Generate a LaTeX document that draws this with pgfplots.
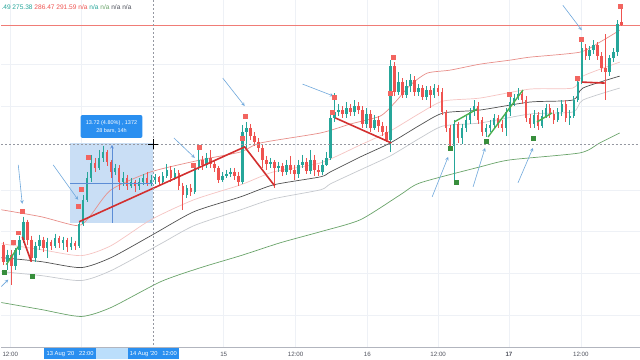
\documentclass[border=0pt]{standalone}
\usepackage{pgfplots}
\pgfplotsset{compat=1.18}
\usepackage{pgfplotstable}
\usepackage{fontspec}
\setmainfont{Liberation Sans}
\definecolor{upc}{HTML}{26A69A}
\definecolor{dnc}{HTML}{EF5350}
\definecolor{sigred}{HTML}{F26560}
\definecolor{siggreen}{HTML}{388E3C}
\definecolor{trred}{HTML}{D32F2F}
\definecolor{trgreen}{HTML}{4CAF50}
\definecolor{bandS}{HTML}{E88F8A}
\definecolor{bandP}{HTML}{F6C4C2}
\definecolor{bandB}{HTML}{505050}
\definecolor{bandL}{HTML}{C6C9CE}
\definecolor{bandG}{HTML}{6AA46A}
\definecolor{pricec}{HTML}{F07C76}
\definecolor{gridc}{HTML}{EEF1F6}
\definecolor{crossc}{HTML}{9598A1}
\definecolor{selfill}{HTML}{C9DEF5}
\definecolor{selline}{HTML}{5C8DD6}
\definecolor{boxc}{HTML}{2A8FF0}
\definecolor{rangec}{HTML}{BBDEFB}
\definecolor{arrc}{HTML}{6FA8DC}
\definecolor{labc}{HTML}{50535E}
\definecolor{axc}{HTML}{B2B5BE}
\definecolor{tgreen}{HTML}{26A69A}
\definecolor{tred}{HTML}{EF5350}

% candles, pixel-like units (y grows downward): x open high low close
\pgfplotstableread{
x o h l c
6 262 250 270 255
14 266 248 270 250
18 250 236 255 240
22 240 217 243 222
34 258 242 262 246
38 246 235 250 240
46 248 238 258 242
54 246 234 248 238
62 243 237 250 240
70 247 237 250 243
78 246 222 248 224
82 224 195 226 200
86 200 172 202 178
90 178 155 182 163
98 168 150 170 158
102 158 146 162 152
114 172 164 175 168
122 182 172 186 178
130 186 178 188 182
138 186 178 190 182
142 182 174 185 178
150 183 175 186 180
154 180 174 184 177
162 182 172 184 176
166 176 164 178 170
174 178 168 180 173
186 195 185 198 188
194 192 163 194 167
198 167 150 170 160
206 165 153 168 158
222 180 172 182 176
226 176 170 178 174
230 174 168 177 172
242 182 125 184 132
246 132 122 148 128
270 164 158 168 162
278 168 162 172 166
286 172 160 175 165
298 174 160 178 165
302 165 155 168 162
310 171 150 174 160
322 172 160 175 165
326 165 152 166 158
330 158 112 160 118
334 118 93 122 112
338 112 104 116 110
346 114 102 118 108
354 112 100 116 106
366 124 108 128 114
374 128 115 130 120
390 140 60 152 66
398 92 72 95 82
406 95 80 98 86
410 86 74 92 80
418 92 84 96 88
426 97 86 100 90
434 95 84 98 88
454 146 120 180 124
462 138 124 144 128
466 128 116 132 120
470 120 108 124 112
474 112 100 116 106
486 132 124 137 128
490 128 120 132 125
494 125 114 128 118
506 128 108 136 112
510 112 96 116 102
514 102 94 106 98
518 98 88 100 94
534 124 110 128 115
542 126 110 128 116
546 116 104 118 108
558 120 108 122 112
562 112 100 116 104
570 118 110 125 116
574 116 96 118 100
578 100 78 102 82
582 82 40 84 48
590 56 46 60 50
594 50 40 54 45
610 72 55 76 58
614 58 48 62 52
618 52 20 56 24
}\up

\pgfplotstableread{
x o h l c
2 245 242 265 262
10 255 250 285 266
26 222 220 245 240
30 240 236 262 258
42 240 237 252 248
50 242 240 250 246
58 238 236 248 243
66 240 238 252 247
74 243 241 250 246
94 163 158 172 168
106 152 150 166 162
110 162 160 178 172
118 168 165 190 182
126 178 175 190 186
134 182 180 192 186
146 178 172 186 183
158 177 176 185 182
170 170 166 182 178
178 173 170 190 186
182 186 183 210 195
190 188 184 196 192
202 160 156 170 165
210 158 150 168 164
214 164 160 172 168
218 168 166 183 180
234 172 168 180 176
238 176 172 186 182
250 128 124 140 136
254 136 132 146 142
258 142 138 152 148
262 148 145 168 160
266 160 156 170 164
274 162 160 188 168
282 166 163 176 172
290 165 156 174 170
294 170 165 180 174
306 162 158 174 171
314 160 155 176 170
318 170 165 176 172
342 110 106 118 114
350 108 104 116 112
358 106 102 114 110
362 110 106 128 124
370 114 110 132 128
378 120 116 132 126
382 126 122 136 132
386 132 126 142 140
394 66 62 96 92
402 82 78 98 95
414 80 76 96 92
422 88 85 100 97
430 90 86 108 95
438 88 85 96 92
442 92 88 115 112
446 112 110 132 128
450 128 125 150 146
458 124 122 143 138
478 106 102 124 120
482 120 117 136 132
498 118 115 128 124
502 124 120 132 128
522 94 90 104 100
526 100 96 122 118
530 118 114 128 124
538 115 112 130 126
550 108 104 118 114
554 114 110 124 120
566 104 100 122 118
586 48 44 60 56
598 45 42 60 56
602 56 52 72 68
606 68 34 100 72
622 22 8 26 25
}\down

\pgfplotsset{
  candle/.style 2 args={draw=none, mark=none, forget plot,
    error bars/.cd, y dir=plus, y explicit,
    error mark=none, error mark options={draw=none, fill=none, mark size=0pt},
    error bar style={line width=#1, draw=#2}},
}

\begin{document}
\begin{tikzpicture}
\begin{axis}[
  scale only axis, width=640bp, height=360bp,
  xmin=0, xmax=640, ymin=0, ymax=360, y dir=reverse,
  hide axis, clip=false,
]
% background
\fill[white] (axis cs:0,0) rectangle (axis cs:640,360);
% grid
\draw[gridc, line width=0.6bp] (axis cs:9,0) -- (axis cs:9,348);
\draw[gridc, line width=0.6bp] (axis cs:80,0) -- (axis cs:80,348);
\draw[gridc, line width=0.6bp] (axis cs:223,0) -- (axis cs:223,348);
\draw[gridc, line width=0.6bp] (axis cs:295,0) -- (axis cs:295,348);
\draw[gridc, line width=0.6bp] (axis cs:367,0) -- (axis cs:367,348);
\draw[gridc, line width=0.6bp] (axis cs:438,0) -- (axis cs:438,348);
\draw[gridc, line width=0.6bp] (axis cs:509,0) -- (axis cs:509,348);
\draw[gridc, line width=0.6bp] (axis cs:581,0) -- (axis cs:581,348);
\draw[gridc, line width=0.6bp] (axis cs:0,64) -- (axis cs:640,64);
\draw[gridc, line width=0.6bp] (axis cs:0,106) -- (axis cs:640,106);
\draw[gridc, line width=0.6bp] (axis cs:0,190) -- (axis cs:640,190);
\draw[gridc, line width=0.6bp] (axis cs:0,232) -- (axis cs:640,232);
\draw[gridc, line width=0.6bp] (axis cs:0,274) -- (axis cs:640,274);
\draw[gridc, line width=0.6bp] (axis cs:0,316) -- (axis cs:640,316);
% selection range
\fill[selfill] (axis cs:69,143) rectangle (axis cs:152,223);
% last price line
\draw[pricec, line width=0.7bp] (axis cs:0,25) -- (axis cs:640,25);

% indicator lines
\addplot[bandG, line width=0.7bp, smooth, tension=0.4] coordinates {(0,303) (40,310) (80,317) (110,308) (160,282) (200,268) (240,256) (280,243) (320,232) (360,220) (400,195) (420,183) (480,167) (510,160) (580,153) (600,143) (620,133)};
\addplot[bandL, line width=0.7bp, smooth, tension=0.4] coordinates {(0,272) (40,276) (80,281) (110,271) (160,244) (193,226) (240,210) (273,199) (320,190) (330,184) (360,170) (390,156) (420,138) (443,126) (480,123) (530,114) (573,112) (583,100) (620,88)};
\addplot[bandB, line width=0.7bp, smooth, tension=0.4] coordinates {(0,258) (40,262) (80,268) (110,258) (150,236) (193,212) (240,197) (273,185) (320,177) (330,172) (360,157) (390,143) (420,125) (443,113) (480,110) (530,102) (573,100) (583,88) (620,76)};
\addplot[bandP, line width=0.7bp, smooth, tension=0.4] coordinates {(0,244) (40,250) (80,256) (110,246) (150,220) (193,200) (240,185) (273,172) (320,163) (360,145) (390,131) (420,113) (443,101) (480,98) (530,89) (573,88) (583,76) (620,62)};
\addplot[bandS, line width=0.7bp, smooth, tension=0.4] coordinates {(0,210) (40,217) (77,226) (90,215) (110,190) (150,172) (200,160) (240,152) (260,143) (320,133) (350,124) (380,116) (395,102) (410,85) (427,73) (450,70) (480,64) (510,60) (530,57) (580,52) (600,42) (620,30)};

% candles: wicks
\addplot[candle={0.8bp}{upc}]
  table[x=x, y=h, y error plus expr=\thisrow{l}-\thisrow{h}] {\up};
\addplot[candle={0.8bp}{dnc}]
  table[x=x, y=h, y error plus expr=\thisrow{l}-\thisrow{h}] {\down};
% candles: bodies
\addplot[candle={2.6bp}{upc}]
  table[x=x, y=c, y error plus expr={max(\thisrow{o}-\thisrow{c},1)}] {\up};
\addplot[candle={2.6bp}{dnc}]
  table[x=x, y=o, y error plus expr={max(\thisrow{c}-\thisrow{o},1)}] {\down};

% selection inner lines
\draw[selline, line width=0.6bp] (axis cs:69,183) -- (axis cs:152,183);
\draw[selline, line width=0.6bp, -stealth] (axis cs:111,223) -- (axis cs:111,145);

% trend lines
\addplot[trred, line width=1.6bp] coordinates {(21,237) (30,262)};
\addplot[trred, line width=1.6bp] coordinates {(78,222) (244,147) (274,186)};
\addplot[trred, line width=1.6bp] coordinates {(335,118) (391,143)};
\addplot[trred, line width=1.6bp] coordinates {(582,82) (605,83)};
\addplot[trgreen, line width=1.4bp] coordinates {(5,265) (17,247)};
\addplot[trgreen, line width=1.4bp] coordinates {(454,122) (477,109)};
\addplot[trgreen, line width=1.4bp] coordinates {(488,137) (523,90)};
\addplot[trgreen, line width=1.4bp] coordinates {(537,122) (552,113)};

% signal markers
\addplot[only marks, mark=square*, mark size=2bp, color=sigred] coordinates {(12,243) (17,233) (21,211) (77,206) (80,189) (87,157) (192,165) (198,147) (242,138) (245,116) (332,112) (334,97) (390,93) (393,57) (509,94) (577,78) (581,39) (620,6)};
\addplot[only marks, mark=square*, mark size=2bp, color=siggreen] coordinates {(3,273) (31,277) (450,148) (456,182) (486,141) (533,138)};

% annotation arrows
\draw[arrc, line width=0.6bp, -stealth] (axis cs:0,287) -- (axis cs:7,280);
\draw[arrc, line width=0.6bp, -stealth] (axis cs:17,165) -- (axis cs:21,204);
\draw[arrc, line width=0.6bp, -stealth] (axis cs:52,165) -- (axis cs:77,200);
\draw[arrc, line width=0.6bp, -stealth] (axis cs:173,138) -- (axis cs:194,158);
\draw[arrc, line width=0.6bp, -stealth] (axis cs:222,78) -- (axis cs:244,106);
\draw[arrc, line width=0.6bp, -stealth] (axis cs:302,84) -- (axis cs:333,96);
\draw[arrc, line width=0.6bp, -stealth] (axis cs:432,197) -- (axis cs:448,157);
\draw[arrc, line width=0.6bp, -stealth] (axis cs:473,187) -- (axis cs:485,148);
\draw[arrc, line width=0.6bp, -stealth] (axis cs:518,183) -- (axis cs:533,148);
\draw[arrc, line width=0.6bp, -stealth] (axis cs:563,5) -- (axis cs:582,30);

% crosshair
\draw[crossc, line width=0.6bp, dash pattern=on 2bp off 2bp] (axis cs:152,0) -- (axis cs:152,348);
\draw[crossc, line width=0.6bp, dash pattern=on 2bp off 2bp] (axis cs:0,144) -- (axis cs:640,144);
\draw[black, line width=0.7bp] (axis cs:147,144) -- (axis cs:157,144);
\draw[black, line width=0.7bp] (axis cs:152,139) -- (axis cs:152,149);

% measurement label
\node[fill=boxc, rounded corners=2bp, text=white, minimum width=62bp, minimum height=23bp,
  inner sep=1bp, align=center, font=\fontsize{5.5bp}{8bp}\selectfont]
  at (axis cs:110.5,126.5) {13.72 (4.80\%) , 1372\\28 bars, 14h};

% x axis
\draw[axc, line width=0.6bp] (axis cs:0,348) -- (axis cs:640,348);
\fill[rangec] (axis cs:95,348.4) rectangle (axis cs:127,360);
\fill[boxc] (axis cs:43,348.4) rectangle (axis cs:95,360);
\fill[boxc] (axis cs:127,348.4) rectangle (axis cs:178,360);
\node[text=white, inner sep=0, font=\fontsize{5.8bp}{7bp}\selectfont] at (axis cs:69,354.5) {13 Aug '20\ \ \ 22:00};
\node[text=white, inner sep=0, font=\fontsize{5.8bp}{7bp}\selectfont] at (axis cs:152.5,354.5) {14 Aug '20\ \ \ 12:00};
\node[text=labc, inner sep=0, font=\fontsize{6.2bp}{7bp}\selectfont] at (axis cs:9,355) {12:00};
\node[text=labc, inner sep=0, font=\fontsize{6.2bp}{7bp}\selectfont] at (axis cs:223,355) {15};
\node[text=labc, inner sep=0, font=\fontsize{6.2bp}{7bp}\selectfont] at (axis cs:295,355) {12:00};
\node[text=labc, inner sep=0, font=\fontsize{6.2bp}{7bp}\selectfont] at (axis cs:367,355) {16};
\node[text=labc, inner sep=0, font=\fontsize{6.2bp}{7bp}\selectfont] at (axis cs:438,355) {12:00};
\node[text=labc, inner sep=0, font=\bfseries\fontsize{6.2bp}{7bp}\selectfont] at (axis cs:509,355) {17};
\node[text=labc, inner sep=0, font=\fontsize{6.2bp}{7bp}\selectfont] at (axis cs:581,355) {12:00};

% top legend text
\node[anchor=west, inner sep=0, font=\fontsize{6.6bp}{8bp}\selectfont] at (axis cs:0,7)
  {\textcolor{tgreen}{.49 275.38} \textcolor{tred}{286.47 291.59} \textcolor{tred}{n/a} \textcolor{tgreen}{n/a} \textcolor{bandG}{n/a} \textcolor{labc}{n/a} \textcolor{labc}{n/a}};
\end{axis}
\end{tikzpicture}
\end{document}
